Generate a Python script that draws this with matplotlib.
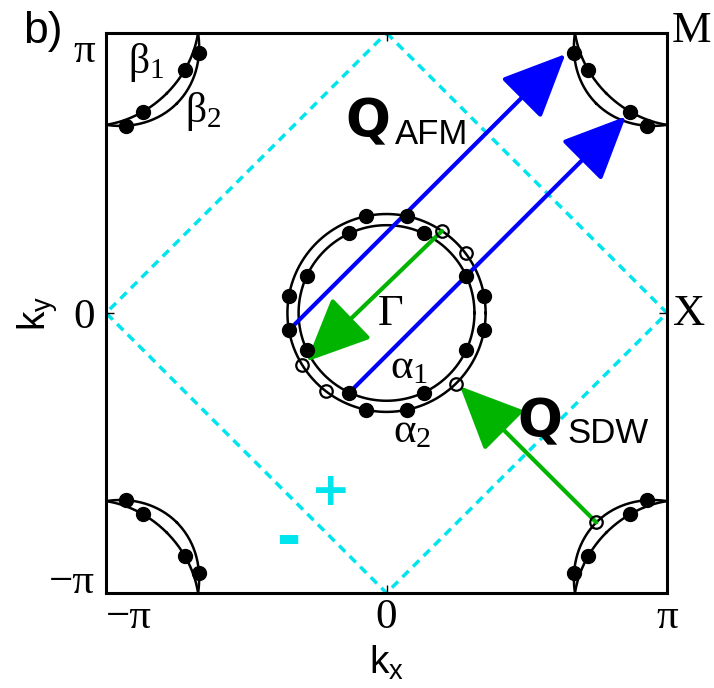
import numpy as np
import matplotlib.pyplot as plt
from matplotlib.patches import FancyArrowPatch

plt.rcParams['font.family'] = 'Liberation Serif'
plt.rcParams['mathtext.fontset'] = 'custom'
plt.rcParams['mathtext.rm'] = 'Liberation Serif'
plt.rcParams['mathtext.sf'] = 'Liberation Sans'

pi = np.pi

# hole pockets at Gamma (radius)
alpha_r = {'a1': 0.985, 'a2': 1.11}
# electron pockets at the corners: (semi-axis along diagonal, semi-axis across)
beta_ax = {'b1': (0.96, 1.12), 'b2': (1.12, 0.96)}
corners = [(-pi, pi), (pi, pi), (-pi, -pi), (pi, -pi)]

# dots on the Fermi surfaces, polar angle in degrees
a1_dots = [25, 65, 115, 155, 205, 245, 295, 335]
a2_dots = [10, 78, 102, 170, 190, 258, 282, 350]
a2_open = [37, 56, 212, 232, 314.5]
# corner dots, angle measured from the diagonal pointing to Gamma
b1_dots = [-20, 20]
b2_dots = [-33, 33]
b2_open_br = [0]      # bottom-right corner only

Q_afm = (pi, pi)
Q_sdw = (-pi / 2, pi / 2)

blue = '#0000ff'
green = '#00b400'
cyan = '#00e4ee'


def ell_r(phi, a, b):
    return a * b / np.sqrt((b * np.cos(phi)) ** 2 + (a * np.sin(phi)) ** 2)


def on_alpha(name, deg):
    t = np.radians(deg)
    return alpha_r[name] * np.cos(t), alpha_r[name] * np.sin(t)


def on_beta(name, corner, deg):
    cx, cy = corner
    psi = np.arctan2(-cy, -cx)
    phi = np.radians(deg)
    r = ell_r(phi, *beta_ax[name])
    return cx + r * np.cos(psi + phi), cy + r * np.sin(psi + phi)


fig = plt.figure(figsize=(7.14, 6.88), dpi=100)
ax = fig.add_axes([0.1485, 0.1381, 0.7857, 0.8140])
ax.set_xlim(-pi, pi)
ax.set_ylim(-pi, pi)

# brillouin zone (dashed diamond)
ax.plot([0, pi, 0, -pi, 0], [pi, 0, -pi, 0, pi], color=cyan, lw=2.5,
        dashes=(2.5, 1.8), zorder=1)

# fermi surfaces
t = np.linspace(0, 2 * pi, 400)
for r in alpha_r.values():
    ax.plot(r * np.cos(t), r * np.sin(t), color='k', lw=1.8, zorder=2)
for c in corners:
    for name in beta_ax:
        xs, ys = on_beta(name, c, np.degrees(t))
        ax.plot(xs, ys, color='k', lw=1.8, zorder=2)

# arrows
def arrow(p0, p1, col):
    ax.add_patch(FancyArrowPatch(p0, p1, arrowstyle='-|>,head_length=40,head_width=18',
                                 mutation_scale=1, lw=3, color=col,
                                 shrinkA=0, shrinkB=4, zorder=3))

for name, deg in [('a2', 190), ('a1', 245)]:
    x0, y0 = on_alpha(name, deg)
    arrow((x0, y0), (x0 + Q_afm[0], y0 + Q_afm[1]), blue)

p0 = on_alpha('a2', 56)
p1 = on_alpha('a2', 212)
arrow(p0, p1, green)

x0, y0 = on_beta('b2', corners[3], b2_open_br[0])
arrow((x0, y0), (x0 + Q_sdw[0], y0 + Q_sdw[1]), green)

# dots
pts = [on_alpha('a1', d) for d in a1_dots] + [on_alpha('a2', d) for d in a2_dots]
for c in corners:
    pts += [on_beta('b1', c, d) for d in b1_dots]
    pts += [on_beta('b2', c, d) for d in b2_dots]
pts = np.array(pts)
ax.plot(pts[:, 0], pts[:, 1], 'o', color='k', ms=10, zorder=5)

opn = [on_alpha('a2', d) for d in a2_open] + [on_beta('b2', corners[3], d) for d in b2_open_br]
opn = np.array(opn)
ax.plot(opn[:, 0], opn[:, 1], 'o', mfc='none', mec='k', mew=1.6, ms=9, zorder=5)

# labels
ax.text(-0.095, -0.135, 'Γ', fontsize=32)
ax.text(0.04, -0.73, r'$\mathrm{\alpha_1}$', fontsize=31)
ax.text(0.07, -1.45, r'$\mathrm{\alpha_2}$', fontsize=31)
ax.text(-2.895, 2.69, r'$\mathrm{\beta_1}$', fontsize=30)
ax.text(-2.256, 2.14, r'$\mathrm{\beta_2}$', fontsize=30)
ax.text(3.197, 3.04, 'M', fontsize=32, clip_on=False)
ax.text(3.21, -0.135, 'X', fontsize=32, clip_on=False)

ax.text(-0.465, 1.97, 'Q', fontsize=38, family='DejaVu Sans', weight='bold')
ax.text(0.095, 1.90, 'AFM', fontsize=25, family='Liberation Sans')
ax.text(1.47, -1.40, 'Q', fontsize=38, family='DejaVu Sans', weight='bold')
ax.text(2.03, -1.456, 'SDW', fontsize=25, family='Liberation Sans')

ax.text(-0.627, -2.015, '+', fontsize=34, family='DejaVu Sans', weight='bold',
        color=cyan, ha='center', va='center')
ax.text(-1.10, -2.744, '-', fontsize=52, family='Liberation Sans', weight='bold',
        color=cyan, ha='center', va='baseline')

fig.text(0.032, 0.9375, 'b)', fontsize=32, family='Liberation Sans')

# axes styling
ticks = [-pi, 0, pi]
ax.set_xticks(ticks)
ax.set_yticks(ticks)
ax.set_xticklabels(['−π', '0', 'π'], fontsize=31)
ax.set_yticklabels(['−π', '0', 'π'], fontsize=31)
ax.tick_params(direction='in', length=6, width=1, top=True, right=True)
ax.tick_params(axis='x', pad=4)
ax.tick_params(axis='y', pad=8)
ax.get_xticklabels()[0].set_ha('left')
ax.get_yticklabels()[0].set_va('baseline')
ax.get_yticklabels()[2].set_va('top')
for s in ax.spines.values():
    s.set_linewidth(2.2)

ax.set_xlabel(r'$\mathsf{k_x}$', fontsize=28)
ax.set_ylabel(r'$\mathsf{k_y}$', fontsize=28)
ax.xaxis.set_label_coords(0.5, -0.092)
ax.yaxis.set_label_coords(-0.082, 0.5)

fig.savefig('out.png', dpi=100)
